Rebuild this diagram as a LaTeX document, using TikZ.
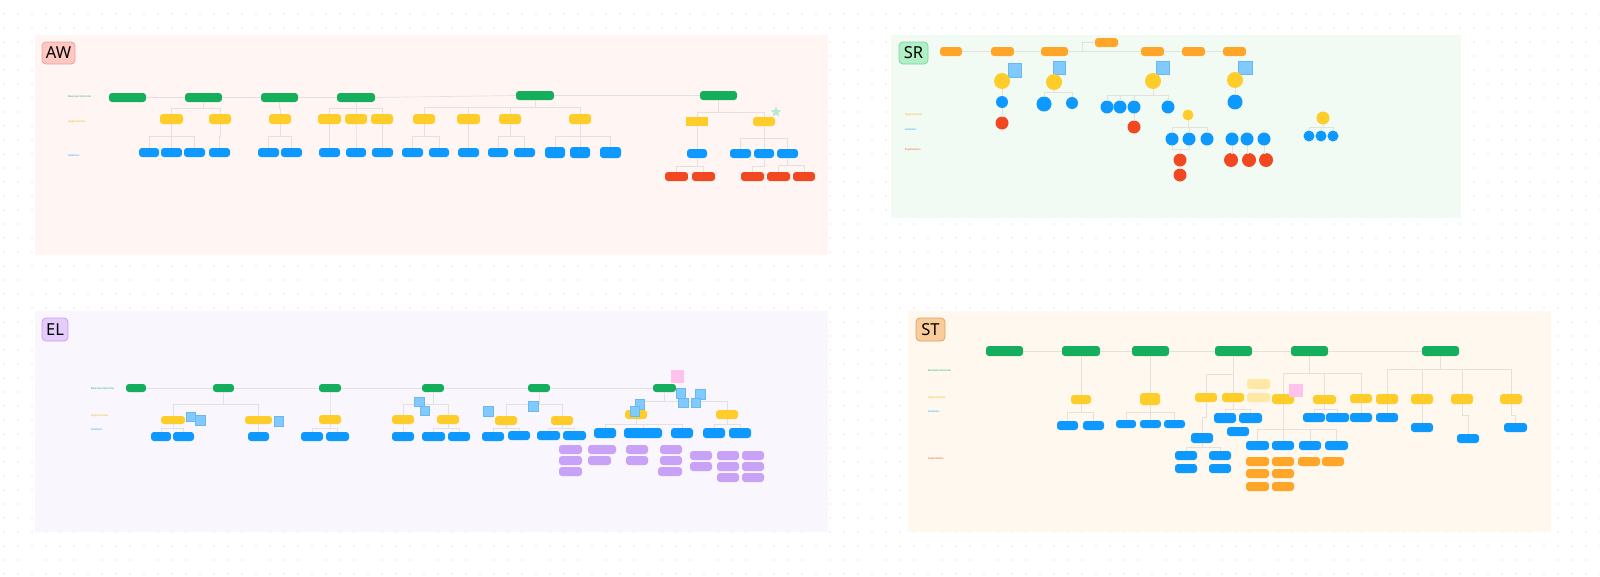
\documentclass[tikz,border=0pt]{standalone}
\usepackage{fontspec}
\setmainfont{Noto Sans}
\usetikzlibrary{shapes.geometric}
\definecolor{cg}{HTML}{14AE5C}
\definecolor{cy}{HTML}{FFCD29}
\definecolor{cyt}{HTML}{F0B400}
\definecolor{cb}{HTML}{0D99FF}
\definecolor{cr}{HTML}{F24822}
\definecolor{co}{HTML}{FFA629}
\definecolor{cp}{HTML}{C8A2F6}
\definecolor{cpy}{HTML}{FFE8A3}
\definecolor{cs}{HTML}{80CAFF}
\definecolor{csd}{HTML}{6BB8EE}
\definecolor{cpk}{HTML}{FFC2EC}
\definecolor{cl}{HTML}{E4E0DE}
\definecolor{cdot}{HTML}{CDCDCD}
\definecolor{pAW}{HTML}{FFF6F4}
\definecolor{pSR}{HTML}{F1FBF4}
\definecolor{pEL}{HTML}{FAF6FE}
\definecolor{pST}{HTML}{FEF8EE}
\definecolor{bAWf}{HTML}{FFC7C2}\definecolor{bAWd}{HTML}{E6A39E}
\definecolor{bSRf}{HTML}{AFF0C6}\definecolor{bSRd}{HTML}{86D1A2}
\definecolor{bELf}{HTML}{E4CCFB}\definecolor{bELd}{HTML}{C4A2E8}
\definecolor{bSTf}{HTML}{F9CC9A}\definecolor{bSTd}{HTML}{D9A46B}
\definecolor{cstar}{HTML}{BDE8CB}
\tikzset{
 box/.style={rectangle, rounded corners=3pt, inner sep=0pt, outer sep=0pt, draw=none},
 gnode/.style={box, fill=cg},
 ynode/.style={box, fill=cy},
 ysq/.style={rectangle, inner sep=0pt, outer sep=0pt, fill=cy},
 bnode/.style={box, fill=cb},
 rnode/.style={box, fill=cr},
 onode/.style={box, fill=co},
 pnode/.style={box, fill=cp},
 pynode/.style={box, fill=cpy},
 stk/.style={rectangle, inner sep=0pt, outer sep=0pt, fill=cs, draw=csd, line width=0.3pt},
 pk/.style={rectangle, inner sep=0pt, outer sep=0pt, fill=cpk},
 ycirc/.style={circle, inner sep=0pt, outer sep=0pt, fill=cy},
 bcirc/.style={circle, inner sep=0pt, outer sep=0pt, fill=cb},
 rcirc/.style={circle, inner sep=0pt, outer sep=0pt, fill=cr},
 conn/.style={draw=cl, line width=0.7pt},
 rowlab/.style={anchor=west, inner sep=0pt, font=\fontsize{2.6}{3}\selectfont},
 badge/.style={rectangle, rounded corners=4pt, line width=0.8pt, inner sep=0pt, font=\fontsize{16.5}{16.5}\selectfont},
}
\newcommand\bx[6]{\node[#1, minimum width={(#5)-(#3)}, minimum height={(#6)-(#4)}] (#2) at ({((#3)+(#5))/2},{((#4)+(#6))/2}) {};}
\newcommand\cc[5]{\node[#1, minimum size={2*(#5)}] (#2) at (#3,#4) {};}
\newcommand\br[3]{\draw[conn] (#1.south) |- (#3.north |- 0,#2) -- (#3.north);}
\begin{document}
\begin{tikzpicture}[x=1pt,y=-1pt]
\useasboundingbox (0,0) rectangle (1600,576);
\fill[white] (0,0) rectangle (1600,576);
\foreach \x in {4,18,...,1600}{\foreach \y in {14,28,...,576}{\fill[cdot] (\x,\y) circle[radius=0.7pt];}}
% panels
\fill[pAW] (35,35) rectangle (828,255);
\fill[pSR] (891,35) rectangle (1461,218);
\fill[pEL] (35,311) rectangle (828,532);
\fill[pST] (908,311) rectangle (1551,532);
\node[badge, fill=bAWf, draw=bAWd, minimum width=33, minimum height=22] (tAW) at (58.5,53) {AW};
\node[badge, fill=bSRf, draw=bSRd, minimum width=29, minimum height=22] (tSR) at (913.5,53) {SR};
\node[badge, fill=bELf, draw=bELd, minimum width=26, minimum height=23] (tEL) at (55,329.5) {EL};
\node[badge, fill=bSTf, draw=bSTd, minimum width=29, minimum height=23] (tST) at (930.5,329.5) {ST};

% ================= AW =================
\node[rowlab, text=cg] (aL1) at (68,97) {Business Outcome};
\node[rowlab, text=cyt] (aL2) at (68,122) {Opportunities};
\node[rowlab, text=cb] (aL3) at (68,156) {Solutions};
\bx{gnode}{aG1}{109}{93}{146}{102}
\bx{gnode}{aG2}{185}{93}{222}{102}
\bx{gnode}{aG3}{261}{93}{298}{102}
\bx{gnode}{aG4}{337}{93}{375}{102}
\bx{gnode}{aG5}{516}{91}{554}{100}
\bx{gnode}{aG6}{700}{91}{737}{100}
\draw[conn] (aG1) -- (aG2);
\draw[conn] (aG2) -- (aG3);
\draw[conn] (aG3) -- (aG4);
\draw[conn] (aG4.east) -- (aG5.west);
\draw[conn] (aG5) -- (aG6);
\bx{ynode}{aY1}{160}{114}{183}{124}
\bx{ynode}{aY2}{209}{114}{231}{124}
\bx{ynode}{aY3}{269}{114}{291}{124}
\bx{ynode}{aY4}{318}{114}{341}{124}
\bx{ynode}{aY5}{345}{114}{367}{124}
\bx{ynode}{aY6}{371}{114}{393}{124}
\bx{ynode}{aY7}{413}{114}{435}{124}
\bx{ynode}{aY8}{457}{114}{480}{124}
\bx{ynode}{aY9}{499}{114}{521}{124}
\bx{ynode}{aY10}{569}{114}{591}{124}
\bx{ysq}{aY11}{686}{117}{708}{126}
\bx{ynode}{aY12}{753}{117}{775}{126}
\br{aG2}{108}{aY1}\br{aG2}{108}{aY2}
\br{aG3}{108}{aY3}
\br{aG4}{108}{aY4}\br{aG4}{108}{aY5}\br{aG4}{108}{aY6}
\br{aG5}{107}{aY7}\br{aG5}{107}{aY8}\br{aG5}{107}{aY9}\br{aG5}{107}{aY10}
\br{aG6}{112}{aY11}\br{aG6}{112}{aY12}
\node[star, star points=5, star point ratio=2.2, fill=cstar, minimum size=11pt, inner sep=0pt] (aStar) at (776,112) {};
\bx{bnode}{aB1}{139}{148}{159}{157}
\bx{bnode}{aB2}{161}{148}{182}{157}
\bx{bnode}{aB3}{184}{148}{205}{157}
\bx{bnode}{aB4}{209}{148}{230}{157}
\bx{bnode}{aB5}{258}{148}{279}{157}
\bx{bnode}{aB6}{281}{148}{302}{157}
\bx{bnode}{aB7}{319}{148}{340}{157}
\bx{bnode}{aB8}{346}{148}{366}{157}
\bx{bnode}{aB9}{372}{148}{393}{157}
\bx{bnode}{aB10}{402}{148}{423}{157}
\bx{bnode}{aB11}{429}{148}{449}{157}
\bx{bnode}{aB12}{458}{148}{479}{157}
\bx{bnode}{aB13}{488}{148}{508}{157}
\bx{bnode}{aB14}{514}{148}{535}{157}
\bx{bnode}{aB15}{545}{147}{565}{158}
\bx{bnode}{aB16}{570}{147}{590}{158}
\bx{bnode}{aB17}{600}{147}{621}{158}
\bx{bnode}{aB18}{687}{149}{707}{158}
\bx{bnode}{aB19}{730}{149}{751}{158}
\bx{bnode}{aB20}{754}{149}{774}{158}
\bx{bnode}{aB21}{777}{149}{798}{158}
\br{aY1}{136}{aB1}\br{aY1}{136}{aB2}\br{aY1}{136}{aB3}
\br{aY2}{136}{aB4}
\br{aY3}{136}{aB5}\br{aY3}{136}{aB6}
\br{aY4}{136}{aB7}\br{aY5}{136}{aB8}\br{aY6}{136}{aB9}
\br{aY7}{136}{aB10}\br{aY7}{136}{aB11}
\br{aY8}{136}{aB12}
\br{aY9}{136}{aB13}\br{aY9}{136}{aB14}
\br{aY10}{136}{aB15}\br{aY10}{136}{aB16}\br{aY10}{136}{aB17}
\br{aY11}{138}{aB18}
\br{aY12}{138}{aB19}\br{aY12}{138}{aB20}\br{aY12}{138}{aB21}
\bx{rnode}{aR1}{665}{172}{688}{181}
\bx{rnode}{aR2}{692}{172}{715}{181}
\bx{rnode}{aR3}{741}{172}{764}{181}
\bx{rnode}{aR4}{767}{172}{790}{181}
\bx{rnode}{aR5}{793}{172}{815}{181}
\br{aB18}{166}{aR1}\br{aB18}{166}{aR2}
\br{aB20}{166}{aR3}
\br{aB21}{165}{aR4}\br{aB21}{165}{aR5}

% ================= SR =================
\node[rowlab, text=cyt] (sL1) at (905,115) {Opportunities};
\node[rowlab, text=cb] (sL2) at (905,130) {Solutions};
\node[rowlab, text=cr] (sL3) at (905,150) {Experiments};
\bx{onode}{sO1}{940}{47}{962}{56}
\bx{onode}{sO2}{991}{47}{1014}{56}
\bx{onode}{sO3}{1041}{47}{1068}{56}
\bx{onode}{sO4}{1095}{38}{1118}{47}
\bx{onode}{sO5}{1141}{47}{1164}{56}
\bx{onode}{sO6}{1182}{47}{1205}{56}
\bx{onode}{sO7}{1223}{47}{1246}{56}
\draw[conn] (sO1) -- (sO2);
\draw[conn] (sO2) -- (sO3);
\draw[conn] (sO3) -- (sO5);
\draw[conn] (sO5) -- (sO6);
\draw[conn] (sO6) -- (sO7);
\coordinate (sJ) at (1082,51.5);
\draw[conn] (sJ) |- (sO4.west);
\bx{stk}{sS1}{1008}{63}{1021}{77}
\bx{stk}{sS2}{1053}{61}{1065}{74}
\bx{stk}{sS3}{1156}{61}{1169}{74}
\bx{stk}{sS4}{1238}{61}{1252}{74}
\cc{ycirc}{sY1}{1002}{81}{8}
\cc{ycirc}{sY2}{1054}{82}{8}
\cc{ycirc}{sY3}{1153}{81}{8}
\cc{ycirc}{sY4}{1235}{80}{8}
\cc{ycirc}{sY5}{1188}{115}{5.5}
\cc{ycirc}{sY6}{1323}{118}{6.5}
\cc{bcirc}{sB1}{1002}{102}{6}
\cc{bcirc}{sB2}{1044}{104}{7.5}
\cc{bcirc}{sB3}{1072}{103}{6}
\cc{bcirc}{sB4}{1107}{107}{6.5}
\cc{bcirc}{sB5}{1120}{107}{6.5}
\cc{bcirc}{sB6}{1134}{107}{6.5}
\cc{bcirc}{sB7}{1168}{107}{6.5}
\cc{bcirc}{sB8}{1172}{139}{6.5}
\cc{bcirc}{sB9}{1189}{139}{6.5}
\cc{bcirc}{sB10}{1207}{139}{6.5}
\cc{bcirc}{sB11}{1235}{102}{7.5}
\cc{bcirc}{sB12}{1232}{139}{6.5}
\cc{bcirc}{sB13}{1247}{139}{6.5}
\cc{bcirc}{sB14}{1264}{139}{6.5}
\cc{bcirc}{sB15}{1309}{136}{5.5}
\cc{bcirc}{sB16}{1321}{136}{5.5}
\cc{bcirc}{sB17}{1333}{136}{5.5}
\cc{rcirc}{sR1}{1002}{123}{6.5}
\cc{rcirc}{sR2}{1134}{127}{6.5}
\cc{rcirc}{sR3}{1180}{160}{6.5}
\cc{rcirc}{sR4}{1180}{175}{6.5}
\cc{rcirc}{sR5}{1231}{160}{7}
\cc{rcirc}{sR6}{1249}{160}{7}
\cc{rcirc}{sR7}{1266}{160}{7}
\br{sY1}{92}{sB1}
\br{sY2}{92}{sB2}\br{sY2}{92}{sB3}
\br{sY3}{95}{sB4}\br{sY3}{95}{sB5}\br{sY3}{95}{sB6}\br{sY3}{95}{sB7}
\br{sY4}{92}{sB11}
\br{sY5}{127}{sB8}\br{sY5}{127}{sB9}\br{sY5}{127}{sB10}
\br{sY6}{127}{sB15}\br{sY6}{127}{sB16}\br{sY6}{127}{sB17}
\br{sB1}{117}{sR1}
\br{sB6}{120}{sR2}
\br{sB8}{149}{sR3}\br{sB9}{149}{sR3}
\draw[conn] (sR3) -- (sR4);
\br{sB12}{153}{sR5}\br{sB13}{153}{sR6}\br{sB14}{153}{sR7}

% ================= EL =================
\node[rowlab, text=cg] (eL1) at (91,389) {Business Outcome};
\node[rowlab, text=cyt] (eL2) at (91,416) {Opportunities};
\node[rowlab, text=cb] (eL3) at (91,430) {Solutions};
\bx{gnode}{eG1}{126}{384}{146}{392}
\bx{gnode}{eG2}{213}{384}{234}{392}
\bx{gnode}{eG3}{319}{384}{341}{392}
\bx{gnode}{eG4}{422}{384}{444}{392}
\bx{gnode}{eG5}{528}{384}{550}{392}
\bx{gnode}{eG6}{653}{384}{676}{392}
\draw[conn] (eG1) -- (eG2);
\draw[conn] (eG2) -- (eG3);
\draw[conn] (eG3) -- (eG4);
\draw[conn] (eG4) -- (eG5);
\draw[conn] (eG5) -- (eG6);
\bx{ynode}{eY1}{161}{416}{185}{424}
\bx{ynode}{eY2}{245}{416}{272}{424}
\bx{ynode}{eY3}{319}{415}{341}{424}
\bx{ynode}{eY4}{392}{415}{414}{424}
\bx{ynode}{eY5}{437}{415}{459}{424}
\bx{ynode}{eY6}{495}{416}{517}{425}
\bx{ynode}{eY7}{551}{416}{573}{425}
\bx{ynode}{eY8}{625}{410}{647}{419}
\bx{ynode}{eY9}{716}{410}{738}{419}
\br{eG2}{404}{eY1}\br{eG2}{404}{eY2}
\br{eG3}{404}{eY3}
\br{eG4}{404}{eY4}\br{eG4}{404}{eY5}
\br{eG5}{404}{eY6}\br{eG5}{404}{eY7}
\br{eG6}{401}{eY8}\br{eG6}{401}{eY9}
\bx{bnode}{eB1}{151}{432}{171}{441}
\bx{bnode}{eB2}{173}{432}{194}{441}
\bx{bnode}{eB3}{248}{432}{269}{441}
\bx{bnode}{eB4}{301}{432}{323}{441}
\bx{bnode}{eB5}{326}{432}{349}{441}
\bx{bnode}{eB6}{392}{432}{414}{441}
\bx{bnode}{eB7}{422}{432}{445}{441}
\bx{bnode}{eB8}{448}{432}{470}{441}
\bx{bnode}{eB9}{482}{432}{504}{441}
\bx{bnode}{eB10}{508}{431}{530}{440}
\bx{bnode}{eB11}{537}{431}{560}{440}
\bx{bnode}{eB12}{563}{431}{586}{440}
\bx{bnode}{eB13}{594}{428}{616}{438}
\bx{bnode}{eB14}{624}{428}{662}{438}
\bx{bnode}{eB15}{671}{428}{693}{438}
\bx{bnode}{eB16}{703}{428}{725}{438}
\bx{bnode}{eB17}{729}{428}{751}{438}
\br{eY1}{428}{eB1}\br{eY1}{428}{eB2}
\br{eY2}{428}{eB3}
\br{eY3}{428}{eB4}\br{eY3}{428}{eB5}
\br{eY4}{428}{eB6}
\br{eY5}{428}{eB7}\br{eY5}{428}{eB8}
\br{eY6}{428}{eB9}\br{eY6}{428}{eB10}
\br{eY7}{428}{eB11}\br{eY7}{428}{eB12}
\br{eY8}{424}{eB13}\br{eY8}{424}{eB14}\br{eY8}{424}{eB15}
\br{eY9}{424}{eB16}\br{eY9}{424}{eB17}
\bx{pnode}{ePa1}{559}{445}{582}{454}
\bx{pnode}{ePa2}{559}{456}{582}{465}
\bx{pnode}{ePa3}{559}{467}{582}{476}
\bx{pnode}{ePb1}{588}{445}{616}{454}
\bx{pnode}{ePb2}{588}{456}{611}{465}
\bx{pnode}{ePc1}{626}{445}{648}{454}
\bx{pnode}{ePc2}{626}{456}{648}{465}
\bx{pnode}{ePd1}{660}{445}{682}{454}
\bx{pnode}{ePd2}{660}{456}{682}{465}
\bx{pnode}{ePd3}{658}{467}{682}{476}
\bx{pnode}{ePe1}{690}{451}{712}{460}
\bx{pnode}{ePe2}{690}{462}{712}{471}
\bx{pnode}{ePf1}{717}{451}{739}{460}
\bx{pnode}{ePf2}{717}{462}{739}{471}
\bx{pnode}{ePf3}{717}{473}{739}{482}
\bx{pnode}{ePg1}{742}{451}{764}{460}
\bx{pnode}{ePg2}{742}{462}{764}{471}
\bx{pnode}{ePg3}{742}{473}{764}{482}
\bx{stk}{eS1}{186}{412}{195}{421}
\bx{stk}{eS2}{195}{415}{205}{425}
\bx{stk}{eS3}{274}{416}{283}{426}
\bx{stk}{eS4}{414}{397}{424}{406}
\bx{stk}{eS5}{420}{406}{429}{415}
\bx{stk}{eS6}{483}{406}{493}{416}
\bx{stk}{eS7}{528}{401}{538}{411}
\bx{stk}{eS8}{635}{399}{644}{409}
\bx{stk}{eS9}{630}{406}{639}{416}
\bx{stk}{eS10}{676}{388}{685}{398}
\bx{stk}{eS11}{678}{398}{688}{407}
\bx{stk}{eS12}{695}{389}{705}{399}
\bx{stk}{eS13}{691}{398}{700}{407}
\bx{pk}{eK1}{671}{370}{684}{383}

% ================= ST =================
\node[rowlab, text=cg] (tL1) at (928,371) {Business Outcome};
\node[rowlab, text=cyt] (tL2) at (928,398) {Opportunities};
\node[rowlab, text=cb] (tL3) at (928,412) {Solutions};
\node[rowlab, text=cr] (tL4) at (928,459) {Experiments};
\bx{gnode}{tG1}{986}{346}{1023}{356}
\bx{gnode}{tG2}{1062}{346}{1100}{356}
\bx{gnode}{tG3}{1132}{346}{1169}{356}
\bx{gnode}{tG4}{1215}{346}{1252}{356}
\bx{gnode}{tG5}{1291}{346}{1328}{356}
\bx{gnode}{tG6}{1422}{346}{1459}{356}
\draw[conn] (tG1) -- (tG2);
\draw[conn] (tG2) -- (tG3);
\draw[conn] (tG3) -- (tG4);
\draw[conn] (tG4) -- (tG5);
\draw[conn] (tG5) -- (tG6);
\bx{ynode}{tY1}{1071}{395}{1091}{404}
\bx{ynode}{tY2}{1140}{393}{1160}{405}
\bx{ynode}{tY3}{1195}{393}{1217}{402}
\bx{ynode}{tY4}{1222}{393}{1244}{402}
\bx{pynode}{tP1}{1247}{379}{1270}{389}
\bx{pynode}{tP2}{1247}{393}{1270}{402}
\bx{ynode}{tY5}{1272}{394}{1294}{404}
\bx{ynode}{tY6}{1313}{395}{1336}{404}
\bx{ynode}{tY7}{1350}{394}{1372}{403}
\bx{ynode}{tY8}{1376}{394}{1398}{404}
\bx{ynode}{tY9}{1411}{394}{1433}{404}
\bx{ynode}{tY10}{1451}{394}{1473}{404}
\bx{ynode}{tY11}{1500}{394}{1522}{404}
\bx{pk}{tK1}{1289}{384}{1303}{397}
\br{tG2}{375}{tY1}
\br{tG3}{375}{tY2}
\br{tG4}{374}{tY3}\br{tG4}{374}{tY4}
\br{tG5}{373}{tY5}\br{tG5}{373}{tY6}\br{tG5}{373}{tY7}
\br{tG6}{369}{tY8}\br{tG6}{369}{tY9}\br{tG6}{369}{tY10}\br{tG6}{369}{tY11}
\bx{bnode}{tB1}{1057}{421}{1078}{430}
\bx{bnode}{tB2}{1083}{421}{1104}{430}
\bx{bnode}{tB3}{1116}{420}{1136}{428}
\bx{bnode}{tB4}{1140}{420}{1161}{428}
\bx{bnode}{tB5}{1164}{420}{1185}{428}
\bx{bnode}{tB6}{1191}{433}{1213}{443}
\bx{bnode}{tB7}{1175}{451}{1197}{460}
\bx{bnode}{tB8}{1175}{464}{1197}{473}
\bx{bnode}{tB9}{1209}{451}{1231}{460}
\bx{bnode}{tB10}{1209}{464}{1231}{473}
\bx{bnode}{tB11}{1214}{413}{1236}{423}
\bx{bnode}{tB12}{1239}{413}{1262}{423}
\bx{bnode}{tB13}{1227}{427}{1249}{436}
\bx{bnode}{tB14}{1246}{441}{1269}{450}
\bx{bnode}{tB15}{1272}{441}{1294}{450}
\bx{bnode}{tB16}{1299}{441}{1321}{450}
\bx{bnode}{tB17}{1325}{441}{1348}{450}
\bx{bnode}{tB18}{1303}{413}{1325}{422}
\bx{bnode}{tB19}{1326}{413}{1349}{422}
\bx{bnode}{tB20}{1350}{413}{1372}{422}
\bx{bnode}{tB21}{1376}{413}{1398}{422}
\bx{bnode}{tB22}{1411}{423}{1433}{432}
\bx{bnode}{tB23}{1457}{434}{1479}{443}
\bx{bnode}{tB24}{1504}{423}{1527}{432}
\br{tY1}{412}{tB1}\br{tY1}{412}{tB2}
\br{tY2}{412}{tB3}\br{tY2}{412}{tB4}\br{tY2}{412}{tB5}
\br{tY3}{417}{tB6}
\br{tB6}{447}{tB7}\br{tB6}{447}{tB9}
\br{tY4}{409}{tB11}\br{tY4}{409}{tB12}
\br{tY5}{429}{tB14}\br{tY5}{429}{tB15}\br{tY5}{429}{tB16}\br{tY5}{429}{tB17}
\br{tY6}{409}{tB18}\br{tY6}{409}{tB19}
\br{tY7}{409}{tB20}
\br{tY8}{409}{tB21}
\br{tY9}{414}{tB22}
\br{tY10}{415}{tB23}
\br{tY11}{415}{tB24}
\bx{onode}{tO1}{1246}{457}{1269}{466}
\bx{onode}{tO2}{1246}{469}{1269}{478}
\bx{onode}{tO3}{1246}{482}{1269}{491}
\bx{onode}{tO4}{1272}{457}{1294}{466}
\bx{onode}{tO5}{1272}{469}{1294}{478}
\bx{onode}{tO6}{1272}{482}{1294}{491}
\bx{onode}{tO7}{1298}{457}{1320}{466}
\bx{onode}{tO8}{1322}{457}{1344}{466}
\end{tikzpicture}
\end{document}
